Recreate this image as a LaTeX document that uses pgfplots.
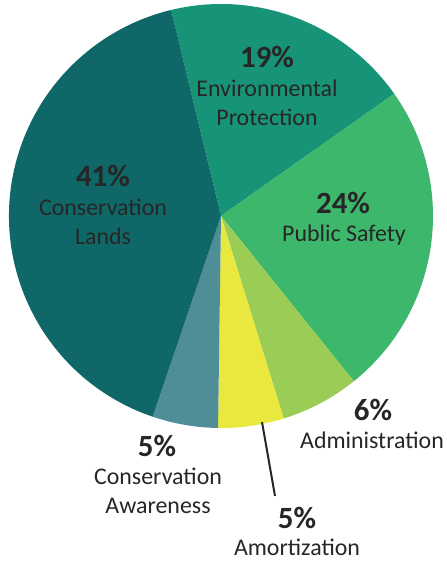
\documentclass[border=0pt]{standalone}
\usepackage{pgfplots}
\pgfplotsset{compat=1.18}
\usepackage{fontspec}
\setmainfont{Carlito}
\definecolor{cLands}{HTML}{0F6767}
\definecolor{cEnv}{HTML}{179478}
\definecolor{cSafe}{HTML}{3DB76C}
\definecolor{cAdm}{HTML}{9BCD56}
\definecolor{cAmo}{HTML}{E8E83E}
\definecolor{cAwa}{HTML}{4F8D97}
\definecolor{txt}{HTML}{262626}
% shares in percent, clockwise from the top
\def\pEnv{19}\def\pSafe{24}\def\pAdm{6}\def\pAmo{5}\def\pAwa{5}\def\pLands{41}
\pgfmathsetmacro\aA{103.6}
\pgfmathsetmacro\aB{\aA-\pEnv*3.6}
\pgfmathsetmacro\aC{\aB-\pSafe*3.6}
\pgfmathsetmacro\aD{\aC-\pAdm*3.6}
\pgfmathsetmacro\aE{\aD-\pAmo*3.6}
\pgfmathsetmacro\aF{\aE-\pAwa*3.6}
\pgfmathsetmacro\aG{\aF-\pLands*3.6}
\newcommand{\pct}[1]{{\fontsize{31}{32}\selectfont\bfseries #1}}
\begin{document}
\begin{tikzpicture}
\useasboundingbox (0,0) rectangle (447bp,561bp);
\begin{axis}[at={(9bp,133bp)}, anchor=south west, scale only axis,
  width=424bp, height=424bp, xmin=-1, xmax=1, ymin=-1, ymax=1,
  hide axis, clip=false]
\fill[cEnv] (axis cs:0,0) -- (axis cs:{cos(\aA)},{sin(\aA)}) arc[start angle=\aA, end angle=\aB, radius=212bp] -- cycle;
\fill[cSafe] (axis cs:0,0) -- (axis cs:{cos(\aB)},{sin(\aB)}) arc[start angle=\aB, end angle=\aC, radius=212bp] -- cycle;
\fill[cAdm] (axis cs:0,0) -- (axis cs:{cos(\aC)},{sin(\aC)}) arc[start angle=\aC, end angle=\aD, radius=212bp] -- cycle;
\fill[cAmo] (axis cs:0,0) -- (axis cs:{cos(\aD)},{sin(\aD)}) arc[start angle=\aD, end angle=\aE, radius=212bp] -- cycle;
\fill[cAwa] (axis cs:0,0) -- (axis cs:{cos(\aE)},{sin(\aE)}) arc[start angle=\aE, end angle=\aF, radius=212bp] -- cycle;
\fill[cLands] (axis cs:0,0) -- (axis cs:{cos(\aF)},{sin(\aF)}) arc[start angle=\aF, end angle=\aG, radius=212bp] -- cycle;
\end{axis}
\begin{scope}[every node/.style={text=txt, inner sep=0pt, align=center, font=\fontsize{24}{29}\selectfont}]
\node at (103bp,385bp) {\pct{41\%}};
\node at (103bp,339bp) {Conservation\\Lands};
\node at (267bp,504bp) {\pct{19\%}};
\node at (267bp,458bp) {Environmental\\Protection};
\node at (343bp,358bp) {\pct{24\%}};
\node at (344bp,326bp) {Public Safety};
\node at (373bp,151bp) {\pct{6\%}};
\node at (372bp,121bp) {Administration};
\node at (157bp,115bp) {\pct{5\%}};
\node at (158bp,70bp) {Conservation\\Awareness};
\node at (297bp,43bp) {\pct{5\%}};
\node at (297bp,14bp) {Amortization};
\draw[txt, line width=2bp] (262bp,139bp) -- (275bp,65bp);
\end{scope}
\end{tikzpicture}
\end{document}
